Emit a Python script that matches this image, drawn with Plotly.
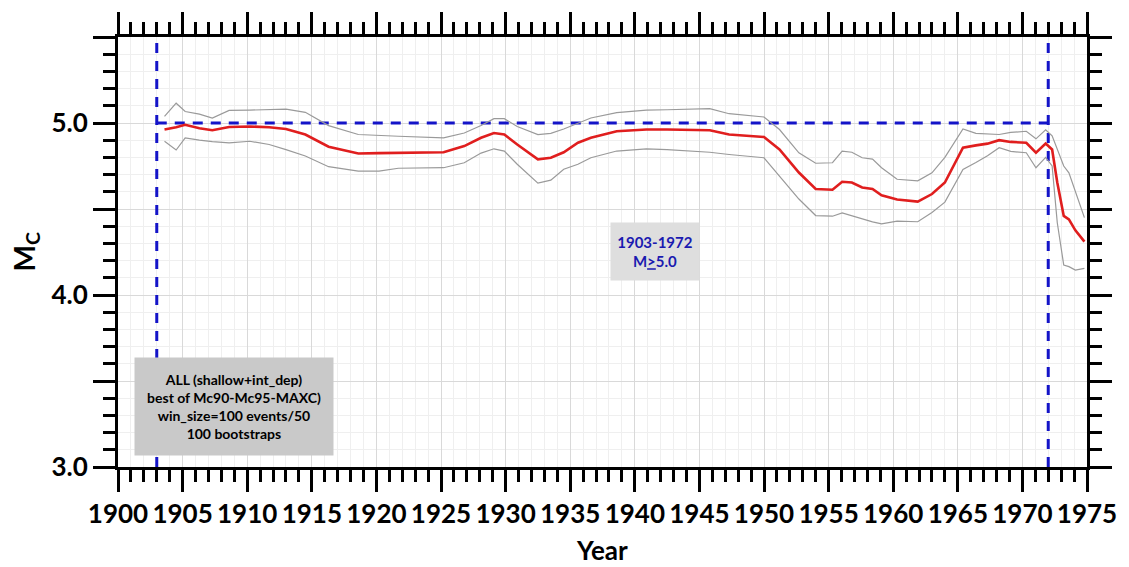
import plotly.graph_objects as go

# ---- data ----
years = [1903.6, 1904.5, 1905.2, 1906.3, 1907.3, 1908.6, 1910.2, 1911.7, 1913.0, 1914.5,
         1916.3, 1918.6, 1920.2, 1921.7, 1925.2, 1926.8, 1928.1, 1929.1, 1929.9, 1930.9,
         1932.5, 1933.5, 1934.5, 1935.6, 1936.6, 1938.6, 1940.9, 1942.5, 1945.8, 1947.3,
         1950.0, 1951.2, 1952.7, 1954.0, 1955.3, 1956.05, 1956.8, 1957.6, 1958.4, 1959.1,
         1960.3, 1961.9, 1963.0, 1964.0, 1965.4, 1966.4, 1967.3, 1968.2, 1969.1, 1970.3,
         1971.05, 1971.8, 1972.3, 1972.7, 1973.2, 1973.6, 1974.1, 1974.8]

mc = [4.962, 4.975, 4.990, 4.970, 4.958, 4.977, 4.980, 4.975, 4.965, 4.933,
      4.862, 4.823, 4.825, 4.827, 4.830, 4.866, 4.914, 4.942, 4.933, 4.875,
      4.789, 4.798, 4.830, 4.885, 4.914, 4.952, 4.962, 4.962, 4.958, 4.933,
      4.919, 4.846, 4.712, 4.616, 4.612, 4.658, 4.654, 4.625, 4.616, 4.580,
      4.555, 4.543, 4.587, 4.654, 4.856, 4.870, 4.880, 4.900, 4.890, 4.885,
      4.827, 4.880, 4.846, 4.654, 4.460, 4.440, 4.376, 4.310]

mc_upper = [5.038, 5.115, 5.067, 5.052, 5.029, 5.073, 5.075, 5.077, 5.081, 5.062,
            4.985, 4.933, 4.927, 4.923, 4.914, 4.942, 4.985, 5.025, 5.025, 4.980,
            4.933, 4.940, 4.965, 5.000, 5.029, 5.060, 5.075, 5.077, 5.083, 5.054,
            5.035, 4.962, 4.827, 4.766, 4.769, 4.837, 4.830, 4.798, 4.790, 4.740,
            4.673, 4.664, 4.710, 4.800, 4.965, 4.940, 4.935, 4.933, 4.945, 4.952,
            4.908, 4.960, 4.925, 4.846, 4.750, 4.710, 4.600, 4.450]

mc_lower = [4.894, 4.843, 4.914, 4.900, 4.892, 4.885, 4.894, 4.875, 4.845, 4.808,
            4.746, 4.720, 4.720, 4.737, 4.740, 4.769, 4.825, 4.850, 4.837, 4.760,
            4.650, 4.668, 4.731, 4.760, 4.798, 4.837, 4.850, 4.845, 4.830, 4.817,
            4.798, 4.693, 4.558, 4.462, 4.458, 4.477, 4.460, 4.443, 4.425, 4.414,
            4.430, 4.426, 4.480, 4.540, 4.730, 4.770, 4.810, 4.856, 4.835, 4.827,
            4.740, 4.800, 4.750, 4.420, 4.174, 4.165, 4.145, 4.155]

period_start = 1903
period_end = 1972
mag_threshold = 5.0

y_tickvals = [3.0, 3.5, 4.0, 4.5, 5.0, 5.5]
y_ticktext = ["3.0", " ", "4.0", " ", "5.0", " "]
x_tickvals = list(range(1900, 1976, 5))

info_text = "ALL (shallow+int_dep)<br>best of Mc90-Mc95-MAXC)<br>win_size=100 events/50<br>100 bootstraps"
period_text = "1903-1972<br>M<u>></u>5.0"

FONT = "Lato"
BLUE = "#1414c8"

fig = go.Figure()

# dashed reference lines
fig.add_trace(go.Scatter(x=[period_start, period_start], y=[3.0, 5.5], mode="lines",
                         line=dict(color=BLUE, width=3, dash="10px,8px"), hoverinfo="skip"))
fig.add_trace(go.Scatter(x=[period_end, period_end], y=[3.0, 5.5], mode="lines",
                         line=dict(color=BLUE, width=3, dash="10px,8px"), hoverinfo="skip"))
fig.add_trace(go.Scatter(x=[period_start, period_end], y=[mag_threshold, mag_threshold], mode="lines",
                         line=dict(color=BLUE, width=3, dash="10px,8px"), hoverinfo="skip"))

fig.add_trace(go.Scatter(x=years, y=mc_upper, mode="lines",
                         line=dict(color="#9a9a9a", width=1.2)))
fig.add_trace(go.Scatter(x=years, y=mc_lower, mode="lines",
                         line=dict(color="#9a9a9a", width=1.2)))
fig.add_trace(go.Scatter(x=years, y=mc, mode="lines",
                         line=dict(color="#e01e1e", width=2.6)))

axis_common = dict(
    showline=True, linewidth=3, linecolor="black", mirror="allticks",
    ticks="outside", ticklen=22, tickwidth=3, tickcolor="black",
    showgrid=True, gridcolor="#d9d9d9", gridwidth=1, zeroline=False,
    tickfont=dict(family=FONT, size=26, color="black", weight="bold"),
)

fig.update_xaxes(range=[1900, 1975], tickmode="array", tickvals=x_tickvals,
                 minor=dict(dtick=1, tick0=1900, ticklen=12, tickwidth=3, tickcolor="black",
                            ticks="outside", showgrid=True, gridcolor="#efefef", gridwidth=1),
                 **axis_common)
fig.update_yaxes(range=[3.0, 5.5], tickmode="array", tickvals=y_tickvals, ticktext=y_ticktext,
                 minor=dict(dtick=0.1, tick0=3.0, ticklen=12, tickwidth=3, tickcolor="black",
                            ticks="outside", showgrid=True, gridcolor="#efefef", gridwidth=1),
                 **axis_common)

fig.add_annotation(x=1909.0, y=3.352, xref="x", yref="y", text=info_text, showarrow=False,
                   bgcolor="#c9c9c9", width=198, height=97, borderpad=0,
                   font=dict(family=FONT, size=14, color="black", weight="bold"), align="center")
fig.add_annotation(x=1941.6, y=4.254, xref="x", yref="y", text=period_text, showarrow=False,
                   bgcolor="#dedede", width=88, height=57, borderpad=0,
                   font=dict(family=FONT, size=15, color="#1a1ab0", weight="bold"), align="center")

fig.add_annotation(x=-0.0954, y=0.5, xref="paper", yref="paper", text="M<sub>C</sub>",
                   textangle=-90, showarrow=False, xanchor="center", yanchor="middle",
                   font=dict(family=FONT, size=28, color="black", weight="bold"))
fig.add_annotation(x=0.4995, y=-0.193, xref="paper", yref="paper", text="Year",
                   showarrow=False, xanchor="center", yanchor="middle",
                   font=dict(family=FONT, size=26, color="black", weight="bold"))

fig.update_layout(
    width=1129, height=567, showlegend=False,
    margin=dict(l=118, r=36, t=33, b=100),
    paper_bgcolor="white", plot_bgcolor="white",
)

fig.write_html("out.html")
